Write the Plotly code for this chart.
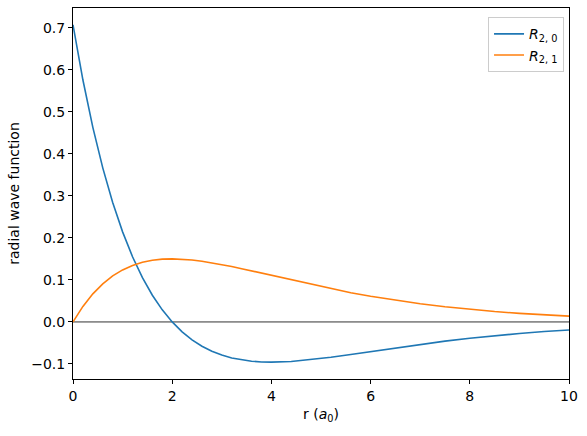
import plotly.graph_objects as go

# sample radii (in a0) and the two radial functions
r = [0, 0.2, 0.4, 0.6, 0.8, 1.0, 1.2, 1.4, 1.6, 1.8, 2.0, 2.2, 2.4, 2.6, 2.8,
     3.0, 3.2, 3.4, 3.6, 3.8, 4.0, 4.4, 4.8, 5.2, 5.6, 6.0, 6.5, 7.0, 7.5,
     8.0, 8.5, 9.0, 9.5, 10.0]
r20 = [0.7071, 0.5758, 0.4631, 0.3667, 0.2844, 0.2144, 0.1552, 0.1053, 0.0635,
       0.0287, 0.0, -0.0235, -0.0426, -0.0578, -0.0697, -0.0789, -0.0857,
       -0.0904, -0.0935, -0.0952, -0.0957, -0.0940, -0.0898, -0.0840, -0.0774,
       -0.0704, -0.0617, -0.0534, -0.0457, -0.0389, -0.0328, -0.0275, -0.0229,
       -0.0191]
r21 = [0.0, 0.0369, 0.0669, 0.0907, 0.1095, 0.1238, 0.1344, 0.1419, 0.1467,
       0.1494, 0.1502, 0.1495, 0.1476, 0.1446, 0.1409, 0.1366, 0.1319, 0.1268,
       0.1215, 0.1160, 0.1105, 0.0995, 0.0889, 0.0788, 0.0695, 0.0610, 0.0514,
       0.0431, 0.0360, 0.0299, 0.0247, 0.0204, 0.0168, 0.0138]

xticks = [0, 2, 4, 6, 8, 10]
yticks = [-0.1, 0.0, 0.1, 0.2, 0.3, 0.4, 0.5, 0.6, 0.7]
ytick_text = ["\u22120.1", "0.0", "0.1", "0.2", "0.3", "0.4", "0.5", "0.6", "0.7"]

fig = go.Figure()
fig.add_trace(go.Scatter(x=r, y=r20, mode="lines", name="<i>R</i><sub>2, 0</sub>",
                         line=dict(color="#1f77b4", width=1.6)))
fig.add_trace(go.Scatter(x=r, y=r21, mode="lines", name="<i>R</i><sub>2, 1</sub>",
                         line=dict(color="#ff7f0e", width=1.6)))

# thin horizontal line at zero
fig.add_shape(type="line", xref="paper", yref="y", x0=0, x1=1, y0=0, y1=0,
              line=dict(color="#333333", width=1), layer="below")

axis_common = dict(showline=True, linecolor="black", linewidth=1, mirror=True,
                   ticks="outside", ticklen=4, tickcolor="black", showgrid=False,
                   zeroline=False, tickfont=dict(size=14, color="black"))

fig.update_layout(
    width=587, height=436,
    margin=dict(l=73, r=18, t=8, b=57),
    paper_bgcolor="white", plot_bgcolor="white",
    font=dict(family="DejaVu Sans", size=14, color="black"),
    showlegend=True,
    legend=dict(x=0.99, y=0.975, xanchor="right", yanchor="top",
                bgcolor="white", bordercolor="#cccccc", borderwidth=1,
                font=dict(size=14), tracegroupgap=4),
    xaxis=dict(range=[0, 10], tickvals=xticks,
               title=dict(text="r (<i>a</i><sub>0</sub>)", standoff=6,
                          font=dict(size=14)), **axis_common),
    yaxis=dict(range=[-0.1358, 0.7472], tickvals=yticks, ticktext=ytick_text,
               title=dict(text="radial wave function", standoff=8,
                          font=dict(size=14)), **axis_common),
)

fig.write_html("out.html", config={"displayModeBar": False},
               post_script="document.body.style.margin='0';")
